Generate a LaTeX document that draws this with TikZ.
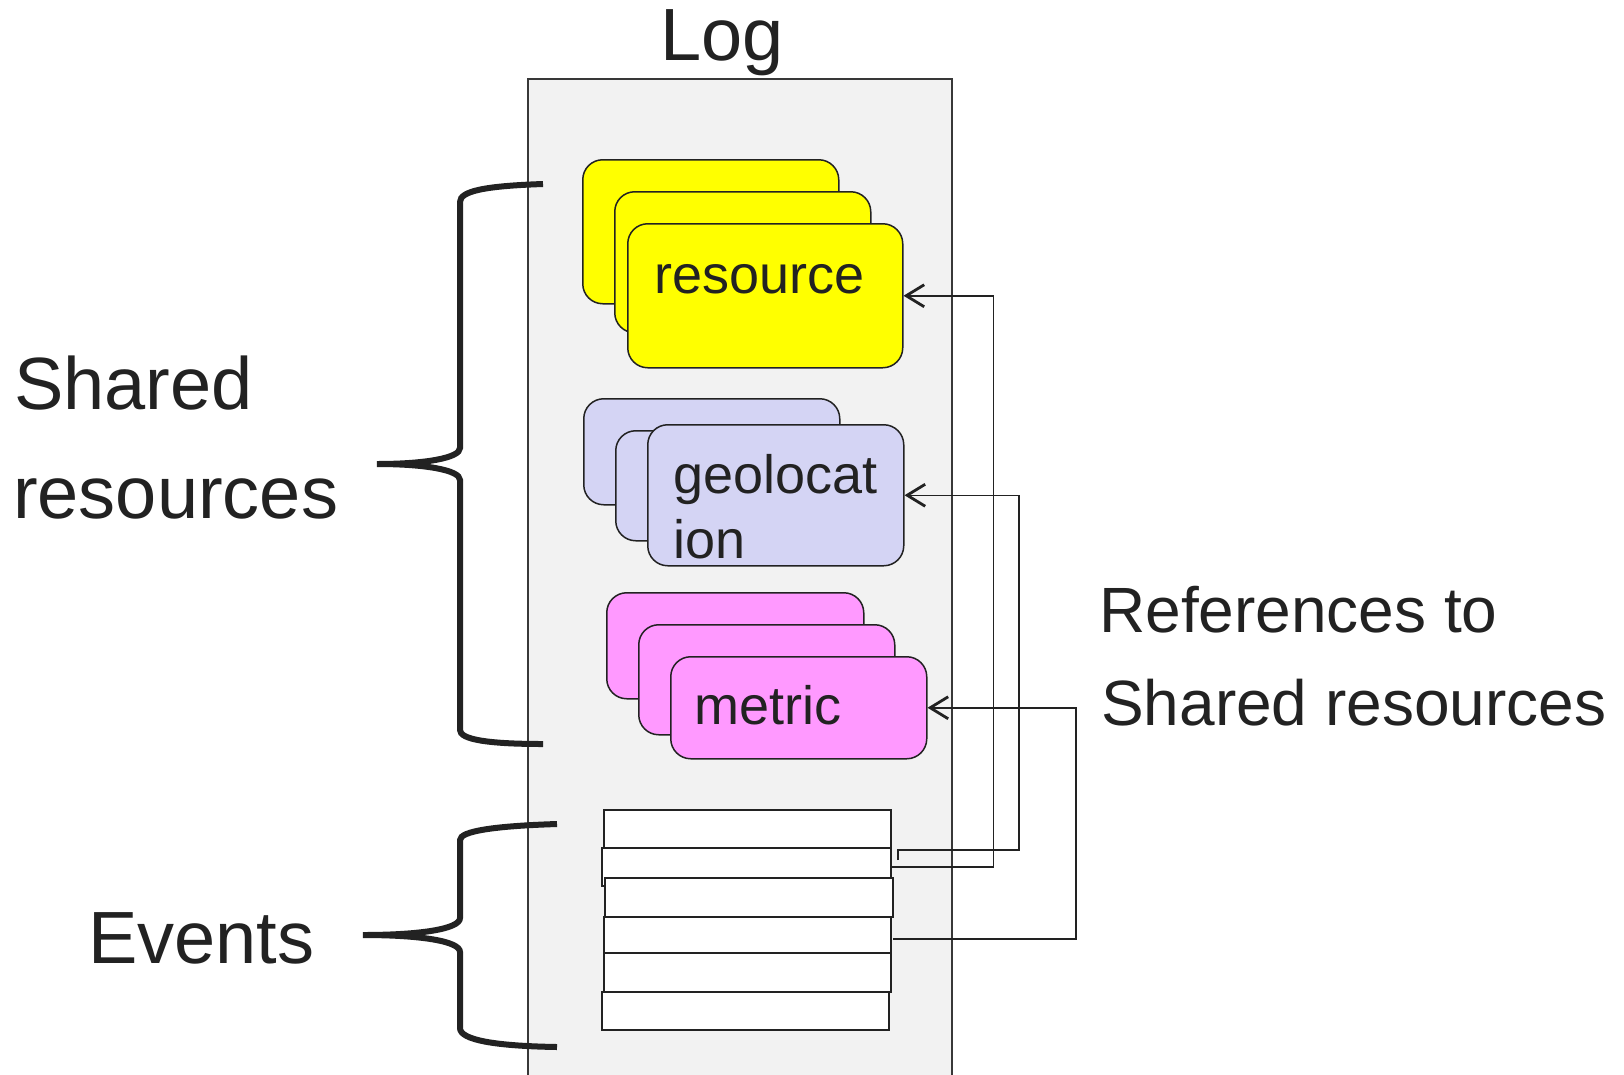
\documentclass[tikz,border=0pt]{standalone}
\usepackage{fontspec}
\setmainfont{Liberation Sans}
\usetikzlibrary{arrows.meta}

\definecolor{logbg}{RGB}{242,242,242}
\definecolor{resyellow}{RGB}{255,255,0}
\definecolor{geoblue}{RGB}{212,212,244}
\definecolor{metpink}{RGB}{255,153,255}
\definecolor{ink}{RGB}{34,34,34}

\tikzset{
  card/.style={draw=ink, line width=1.5pt, rounded corners=20pt, anchor=north west, inner sep=0pt},
  evrow/.style={draw=ink, line width=1.7pt, fill=white, anchor=north west, inner sep=0pt, minimum width=287pt, minimum height=38pt},
  reflink/.style={draw=ink, line width=1.5pt, -{Straight Barb[length=18pt,width=22pt,line width=2.8pt]}},
  brace/.style={draw=ink, line width=6pt},
  bigtext/.style={font=\fontsize{74}{80}\selectfont, text=ink, inner sep=0pt, anchor=base west},
  midtext/.style={font=\fontsize{64}{70}\selectfont, text=ink, inner sep=0pt, anchor=base west},
  cardtext/.style={font=\fontsize{54}{60}\selectfont, text=ink, inner sep=0pt, anchor=base west},
}

\begin{document}
\begin{tikzpicture}[x=1pt,y=-1pt]
\useasboundingbox (0,0) rectangle (1624,1074);

% the log column
\node[draw=ink!90, line width=1.5pt, fill=logbg, anchor=north west, inner sep=0pt,
      minimum width=424pt, minimum height=1020pt] (log) at (527,78) {};
\node[bigtext] (logtitle) at (660,60) {Log};

% braces
\draw[brace] (543,184) .. controls (485,186) and (460,191) .. (460,202) -- (460,448)
  .. controls (460,458) and (425,464) .. (377,464)
  .. controls (425,464) and (460,470) .. (460,480) -- (460,730)
  .. controls (460,739) and (485,744) .. (543,744);
\draw[brace] (557,824) .. controls (495,826) and (460,831) .. (460,840) -- (460,918)
  .. controls (460,929) and (420,935) .. (363,935)
  .. controls (420,935) and (460,941) .. (460,952) -- (460,1028)
  .. controls (460,1040) and (495,1046) .. (557,1047);

% shared resources
\node[card, fill=resyellow, minimum width=256pt, minimum height=144pt] (resback) at (582,159) {};
\node[card, fill=resyellow, minimum width=256pt, minimum height=141pt] (resmid) at (614,191) {};
\node[card, fill=resyellow, minimum width=275pt, minimum height=144pt] (resfront) at (627,223) {};
\node[cardtext] (restext) at (654,293) {resource};

\node[card, fill=geoblue, minimum width=256pt, minimum height=106pt] (geoback) at (583,398) {};
\node[card, fill=geoblue, minimum width=256pt, minimum height=110pt] (geomid) at (615,430) {};
\node[card, fill=geoblue, minimum width=256pt, minimum height=141pt] (geofront) at (647,424) {};
\node[cardtext] (geotext1) at (673,493) {geolocat};
\node[cardtext] (geotext2) at (673,558) {ion};

\node[card, fill=metpink, minimum width=257pt, minimum height=106pt] (metback) at (606,592) {};
\node[card, fill=metpink, minimum width=256pt, minimum height=110pt] (metmid) at (638,624) {};
\node[card, fill=metpink, minimum width=256pt, minimum height=102pt] (metfront) at (670,656) {};
\node[cardtext] (mettext) at (694,724) {metric};

% events
\node[evrow] (ev1) at (603,809) {};
\node[evrow, minimum width=289pt] (ev2) at (601,847) {};
\node[evrow, minimum width=288pt, minimum height=39pt] (ev3) at (604,877) {};
\node[evrow, minimum height=36pt] (ev4) at (603,916) {};
\node[evrow, minimum height=39pt] (ev5) at (603,952) {};
\node[evrow] (ev6) at (601,991) {};

% references back to the shared resources
\coordinate (georef) at (898,860);
\coordinate (metref) at (893,939);
\draw[reflink] (ev2.east) -- ++(102,0) |- (resfront.east);
\draw[reflink] (georef) |- (1019,850) |- (geofront.east);
\draw[reflink] (metref) -- (1076,939) |- (metfront.east);

% labels
\node[bigtext] (sharedlbl1) at (14,409) {Shared};
\node[bigtext] (sharedlbl2) at (13,518) {resources};
\node[bigtext] (eventslbl) at (88,963) {Events};
\node[midtext] (reflbl1) at (1099,632) {References to};
\node[midtext] (reflbl2) at (1101,725) {Shared resources};
\end{tikzpicture}
\end{document}
